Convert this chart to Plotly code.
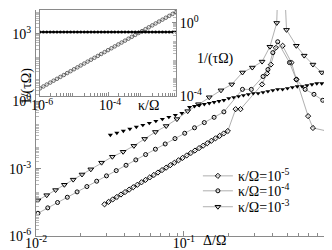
import plotly.graph_objects as go

# ---------------- main panel data ----------------
# kappa/Omega = 1e-3 (open down-triangles)
delta_k3 = [0.01031, 0.01182, 0.01357, 0.01556, 0.01785, 0.02048, 0.02349, 0.02778, 0.03285,
            0.03886, 0.04596, 0.05435, 0.06427, 0.07600, 0.08987, 0.1063, 0.1257, 0.1487,
            0.1785, 0.2111, 0.2496, 0.2908, 0.3387, 0.3826, 0.4256, 0.4524, 0.4958, 0.5776,
            0.6527, 0.7483, 0.8586, 1.0]
rate_k3 = [3.87e-5, 6.56e-5, 1.11e-4, 1.91e-4, 3.23e-4, 5.48e-4, 9.29e-4, 1.84e-3, 3.38e-3,
           5.61e-3, 0.0103, 0.0210, 0.0428, 0.0787, 0.160, 0.361, 0.735, 1.50,
           3.05, 5.61, 19.0, 31.5, 58.0, 266, 3050, 1e9, 1500, 294,
           107, 42.8, 19.0, 7.60]

# kappa/Omega = 1e-4 (open circles)
delta_k4 = [0.01031, 0.01201, 0.01399, 0.01629, 0.01897, 0.02210, 0.02574, 0.02998, 0.03491,
            0.04067, 0.04737, 0.05517, 0.06427, 0.07484, 0.08717, 0.1015, 0.1182, 0.1377,
            0.1604, 0.1868, 0.2496, 0.2864, 0.3439, 0.3711, 0.4005, 0.4322, 0.5190, 0.5776,
            0.6627, 0.7600, 0.8717, 1.0]
rate_k4 = [1.03e-5, 1.79e-5, 3.10e-5, 5.30e-5, 9.18e-5, 1.59e-4, 2.75e-4, 4.75e-4, 8.15e-4,
           1.41e-3, 2.44e-3, 4.22e-3, 7.31e-3, 0.0125, 0.0217, 0.0375, 0.0656, 0.112,
           0.192, 0.336, 3.37, 3.37, 12.6, 25.7, 145, 442, 52.4, 9.31,
           3.37, 2.03, 1.10, 0.735]

# kappa/Omega = 1e-5 (open diamonds)
delta_k5 = [0.02908, 0.03100, 0.03305, 0.03524, 0.03757, 0.04005, 0.04270, 0.04552, 0.04853,
            0.05174, 0.05517, 0.05882, 0.06271, 0.06685, 0.07127, 0.07599, 0.08101, 0.08637,
            0.09211, 0.09820, 0.1047, 0.1116, 0.1190, 0.1269, 0.1353, 0.1442, 0.1538, 0.1639,
            0.1748, 0.1863, 0.1986, 0.2244, 0.2421, 0.3387, 0.3654, 0.3885, 0.4195, 0.4665,
            0.5353, 0.5776, 0.6939, 0.7483, 0.9267, 0.9849]
rate_k5 = [2.577e-5, 3.311e-5, 4.253e-5, 5.463e-5, 7.018e-5, 9.015e-5, 1.158e-4, 1.488e-4,
           1.911e-4, 2.455e-4, 3.154e-4, 4.051e-4, 5.204e-4, 6.685e-4, 8.588e-4, 1.103e-3,
           1.417e-3, 1.820e-3, 2.337e-3, 3.002e-3, 3.856e-3, 4.953e-3, 6.363e-3, 8.174e-3,
           0.01050, 0.01349, 0.01733, 0.02226, 0.02859, 0.03672, 0.04718, 0.443, 0.443,
           5.61, 17.1, 42.8, 240, 294, 52.4, 9.31, 0.217, 0.0643, 0.0473, 0.0473]

# filled down-triangles (no legend entry)
delta_fill = [0.03187, 0.03525, 0.03901, 0.04316, 0.04776, 0.05284, 0.05847, 0.06473, 0.07162,
              0.07925, 0.08770, 0.09705, 0.1095, 0.1182, 0.1276, 0.1377, 0.1487, 0.1604,
              0.1731, 0.1868, 0.2016, 0.2176, 0.2348, 0.2533, 0.2734, 0.2951, 0.3184, 0.3437,
              0.3709, 0.4003, 0.4320, 0.4662, 0.5031, 0.5430, 0.5860, 0.6324, 0.6825, 0.7366,
              0.7949, 0.8579, 0.9258, 0.9991]
rate_fill = [0.03155, 0.03866, 0.04736, 0.05801, 0.07108, 0.08710, 0.1067, 0.1307, 0.1602,
             0.1963, 0.2404, 0.2945, 0.5421, 0.6003, 0.6645, 0.7355, 0.8141, 0.9008,
             0.9970, 1.104, 1.352, 1.497, 1.656, 1.834, 2.029, 2.246, 2.246, 2.486,
             2.753, 3.046, 3.373, 3.373, 3.733, 4.132, 4.574, 4.574, 5.062, 5.604,
             6.202, 6.202, 6.865, 7.599]

# ---------------- inset data ----------------
kappa_in = [1.00e-6, 1.26e-6, 1.58e-6, 2.00e-6, 2.51e-6, 3.16e-6, 3.98e-6, 5.01e-6, 6.31e-6,
            7.94e-6, 1.00e-5, 1.26e-5, 1.58e-5, 2.00e-5, 2.51e-5, 3.16e-5, 3.98e-5, 5.01e-5,
            6.31e-5, 7.94e-5, 1.00e-4, 1.26e-4, 1.58e-4, 2.00e-4, 2.51e-4, 3.16e-4, 3.98e-4,
            5.01e-4, 6.31e-4, 7.94e-4, 1.00e-3, 1.26e-3, 1.58e-3, 2.00e-3, 2.51e-3, 3.16e-3,
            3.98e-3, 5.01e-3, 6.31e-3, 7.94e-3, 1.00e-2]
rate_in_open = [2.51e-4, 3.20e-4, 4.07e-4, 5.19e-4, 6.61e-4, 8.41e-4, 1.07e-3, 1.36e-3, 1.74e-3,
                2.21e-3, 2.82e-3, 3.59e-3, 4.57e-3, 5.82e-3, 7.41e-3, 9.44e-3, 0.0120, 0.0153,
                0.0195, 0.0248, 0.0316, 0.0403, 0.0513, 0.0653, 0.0832, 0.106, 0.135,
                0.172, 0.219, 0.279, 0.355, 0.452, 0.575, 0.733, 0.933, 1.19,
                1.51, 1.93, 2.45, 3.13, 3.98]
rate_in_fill = [0.32, 0.32, 0.32, 0.32, 0.32, 0.32, 0.32, 0.32, 0.32, 0.32, 0.32, 0.32, 0.32,
                0.32, 0.32, 0.32, 0.32, 0.32, 0.32, 0.32, 0.32, 0.32, 0.32, 0.32, 0.32, 0.32,
                0.32, 0.32, 0.32, 0.32, 0.32, 0.32, 0.32, 0.32, 0.32, 0.32, 0.32, 0.32, 0.32,
                0.32, 0.32]

legend_names = ["κ/Ω=10<sup>-5</sup>", "κ/Ω=10<sup>-4</sup>", "κ/Ω=10<sup>-3</sup>"]
main_x_ticks = [0.01, 0.1, 1]
main_x_labels = ["10<sup>-2</sup>", "10<sup>-1</sup>", "1"]
main_y_ticks = [1e-6, 1e-3, 1, 1e3]
main_y_labels = ["10<sup>-6</sup>", "10<sup>-3</sup>", "10<sup>0</sup>", "10<sup>3</sup>"]
inset_x_ticks = [1e-6, 1e-4]
inset_x_labels = ["10<sup>-6</sup>", "10<sup>-4</sup>"]
inset_y_ticks = [1e-4, 1]
inset_y_labels = ["10<sup>-4</sup>", "10<sup>0</sup>"]

FONT = "Liberation Serif, Times New Roman, serif"
LINE = "#9a9a9a"
AX = "#8a8a8a"

W, H = 332, 250
ml, mr, mt, mb = 26, 8, 1, 22
pw, ph = W - ml - mr, H - mt - mb


def px(xp):
    return (xp - ml) / pw


def py(yp):
    return (H - mb - yp) / ph


fig = go.Figure()
fig.add_trace(go.Scatter(x=delta_k5, y=rate_k5, name=legend_names[0], mode="lines+markers",
                         legend="legend",
                         line=dict(color=LINE, width=0.8),
                         marker=dict(symbol="diamond-open", size=4, color="black", line=dict(width=1))))
fig.add_trace(go.Scatter(x=delta_k4, y=rate_k4, name=legend_names[1], mode="lines+markers",
                         legend="legend2",
                         line=dict(color=LINE, width=0.8),
                         marker=dict(symbol="circle-open", size=4, color="black", line=dict(width=1))))
fig.add_trace(go.Scatter(x=delta_k3, y=rate_k3, name=legend_names[2], mode="lines+markers",
                         legend="legend3",
                         line=dict(color=LINE, width=0.8),
                         marker=dict(symbol="triangle-down-open", size=5, color="black", line=dict(width=1))))
fig.add_trace(go.Scatter(x=delta_fill, y=rate_fill, mode="markers", showlegend=False,
                         marker=dict(symbol="triangle-down", size=4.5, color="black")))

fig.add_trace(go.Scatter(x=kappa_in, y=rate_in_open, mode="lines+markers", showlegend=False,
                         xaxis="x2", yaxis="y2", line=dict(color=LINE, width=0.6),
                         marker=dict(symbol="circle-open", size=3.5, color="#444", line=dict(width=0.8))))
fig.add_trace(go.Scatter(x=kappa_in, y=rate_in_fill, mode="lines+markers", showlegend=False,
                         xaxis="x2", yaxis="y2", line=dict(color="black", width=1.5),
                         marker=dict(symbol="circle", size=3, color="black")))

main_minor_x = [m * 10.0 ** e for e in range(-2, 0) for m in range(2, 10)]
main_minor_y = [m * 10.0 ** e for e in range(-6, 4) for m in range(2, 10)]
inset_minor_x = [m * 10.0 ** e for e in range(-6, -2) for m in range(2, 10)]
inset_minor_y = [m * 10.0 ** e for e in range(-4, 1) for m in range(2, 10)]


def leg(yc):
    return dict(x=px(189), y=py(yc), xanchor="left", yanchor="middle",
                bgcolor="rgba(0,0,0,0)", font=dict(size=14, family=FONT), itemwidth=30)


fig.update_layout(
    width=W, height=H,
    margin=dict(l=ml, r=mr, t=mt, b=mb),
    plot_bgcolor="white", paper_bgcolor="white",
    font=dict(family=FONT, size=14, color="black"),
    xaxis=dict(type="log", range=[-2, 0.003], showgrid=False, zeroline=False,
               showline=True, linecolor=AX, linewidth=1,
               tickmode="array", tickvals=main_x_ticks, ticktext=main_x_labels,
               ticks="inside", ticklen=5, tickcolor=AX, ticklabelstandoff=-6,
               ticklabeloverflow="allow",
               minor=dict(tickmode="array", tickvals=main_minor_x, ticks="inside",
                          ticklen=3, tickcolor=AX, showgrid=False),
               tickfont=dict(size=14)),
    yaxis=dict(type="log", range=[-6, 4.06], showgrid=False, zeroline=False,
               showline=True, linecolor=AX, linewidth=1,
               tickmode="array", tickvals=main_y_ticks, ticktext=main_y_labels,
               ticks="inside", ticklen=5, tickcolor=AX, ticklabelstandoff=1,
               minor=dict(tickmode="array", tickvals=main_minor_y, ticks="inside",
                          ticklen=3, tickcolor="#bbbbbb", showgrid=False),
               tickfont=dict(size=14)),
    xaxis2=dict(type="log", range=[-6, -2], domain=[px(30), px(167)], anchor="y2",
                showgrid=False, zeroline=False, showline=True, mirror=True,
                linecolor=AX, linewidth=1,
                tickmode="array", tickvals=inset_x_ticks, ticktext=inset_x_labels,
                ticks="inside", ticklen=4, tickcolor=AX, ticklabelstandoff=-3,
                ticklabelshift=2,
                minor=dict(tickmode="array", tickvals=inset_minor_x, ticks="inside",
                           ticklen=3, tickcolor=AX, showgrid=False),
                tickfont=dict(size=14)),
    yaxis2=dict(type="log", range=[-4, 0.71], domain=[py(87), 1.0], anchor="x2", side="right",
                showgrid=False, zeroline=False, showline=True, mirror=True,
                linecolor=AX, linewidth=1,
                tickmode="array", tickvals=inset_y_ticks, ticktext=inset_y_labels,
                ticks="inside", ticklen=4, tickcolor=AX,
                minor=dict(tickmode="array", tickvals=inset_minor_y, ticks="inside",
                           ticklen=3, tickcolor="#bbbbbb", showgrid=False),
                tickfont=dict(size=14)),
    legend=leg(168), legend2=leg(183), legend3=leg(199),
    showlegend=True,
)

fig.add_annotation(text="1/(τΩ)", xref="paper", yref="paper", x=px(7), y=py(57),
                   textangle=-90, showarrow=False, font=dict(size=14))
fig.add_annotation(text="Δ/Ω", xref="paper", yref="paper", x=px(206), y=py(242),
                   showarrow=False, font=dict(size=14))
fig.add_annotation(text="κ/Ω", xref="paper", yref="paper", x=px(139), y=py(97),
                   showarrow=False, font=dict(size=14))
fig.add_annotation(text="1/(τΩ)", xref="paper", yref="paper", x=px(207), y=py(40),
                   showarrow=False, font=dict(size=14))

fig.write_html("out.html")
